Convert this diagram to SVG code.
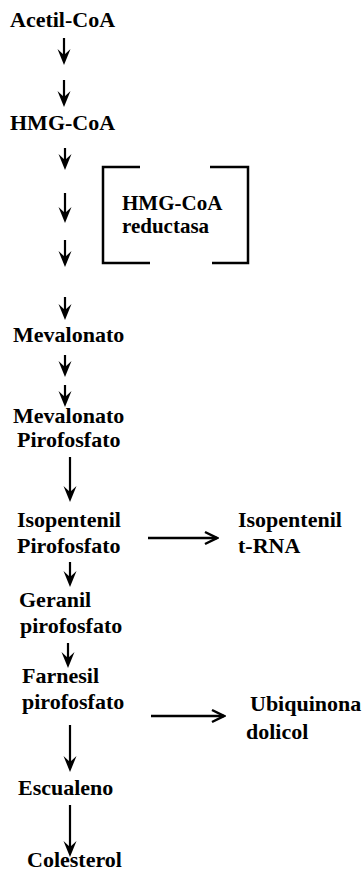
<svg xmlns="http://www.w3.org/2000/svg" width="363" height="878" viewBox="0 0 363 878">
<style>
text{font-family:"Liberation Serif","DejaVu Serif",serif;font-weight:bold;font-size:22px;fill:#000}
text.s{font-size:21px}
.v{stroke:#000;stroke-width:2.2;fill:none;marker-end:url(#down)}
.h{stroke:#000;stroke-width:2.6;fill:none;marker-end:url(#open)}
.br{stroke:#000;stroke-width:2.5;fill:none}
</style>
<defs>
<marker id="down" viewBox="-17 -8 17 16" refX="-9" refY="0" markerWidth="17" markerHeight="16" markerUnits="userSpaceOnUse" orient="auto">
<path d="M0,0 L-16,-6.5 L-10,0 L-16,6.5 Z" fill="#000"/>
</marker>
<marker id="open" viewBox="-14 -8 16 16" refX="0" refY="0" markerWidth="16" markerHeight="16" markerUnits="userSpaceOnUse" orient="auto">
<path d="M-12,-6 L0,0 L-12,6" fill="none" stroke="#000" stroke-width="2.5"/>
</marker>
</defs>
<rect width="363" height="878" fill="#fff"/>
<g id="acetil"><text x="10" y="27">Acetil-CoA</text></g>
<g id="hmgcoa"><text x="10" y="130">HMG-CoA</text></g>
<g id="reductasa">
<path class="br" d="M140,167 H103 V263 H150"/>
<path class="br" d="M210,167 H248 V263 H212"/>
<text class="s" x="122" y="210">HMG-CoA</text>
<text class="s" x="122" y="233">reductasa</text>
</g>
<g id="mevalonato"><text x="13" y="342">Mevalonato</text></g>
<g id="mevalonatopp"><text x="13" y="423">Mevalonato</text><text x="17" y="447">Pirofosfato</text></g>
<g id="isopentenilpp"><text x="17" y="527">Isopentenil</text><text x="17" y="553">Pirofosfato</text></g>
<g id="isopenteniltrna"><text x="238" y="527">Isopentenil</text><text x="238" y="553">t-RNA</text></g>
<g id="geranil"><text x="19" y="607">Geranil</text><text x="20" y="633">pirofosfato</text></g>
<g id="farnesil"><text x="22" y="683">Farnesil</text><text x="22" y="709">pirofosfato</text></g>
<g id="ubiquinona"><text x="250" y="711">Ubiquinona</text><text x="246" y="739">dolicol</text></g>
<g id="escualeno"><text x="18" y="795">Escualeno</text></g>
<g id="colesterol"><text x="27" y="867">Colesterol</text></g>
<g id="connectors">
<line class="v" x1="64" y1="38" x2="64" y2="56"/>
<line class="v" x1="64" y1="80" x2="64" y2="98"/>
<line class="v" x1="65" y1="148" x2="65" y2="161"/>
<line class="v" x1="65" y1="193" x2="65" y2="214"/>
<line class="v" x1="65" y1="240" x2="65" y2="258"/>
<line class="v" x1="65" y1="297" x2="65" y2="311"/>
<line class="v" x1="65" y1="355" x2="65" y2="368"/>
<line class="v" x1="65" y1="385" x2="65" y2="398"/>
<line class="v" x1="70" y1="457" x2="70" y2="493"/>
<line class="v" x1="70" y1="562" x2="70" y2="578"/>
<line class="v" x1="68" y1="643" x2="68" y2="659"/>
<line class="v" x1="70" y1="725" x2="70" y2="763"/>
<line class="v" x1="70" y1="805" x2="70" y2="848"/>
<line class="h" x1="148" y1="538" x2="217" y2="538"/>
<line class="h" x1="151" y1="716" x2="224" y2="716"/>
</g>
</svg>
